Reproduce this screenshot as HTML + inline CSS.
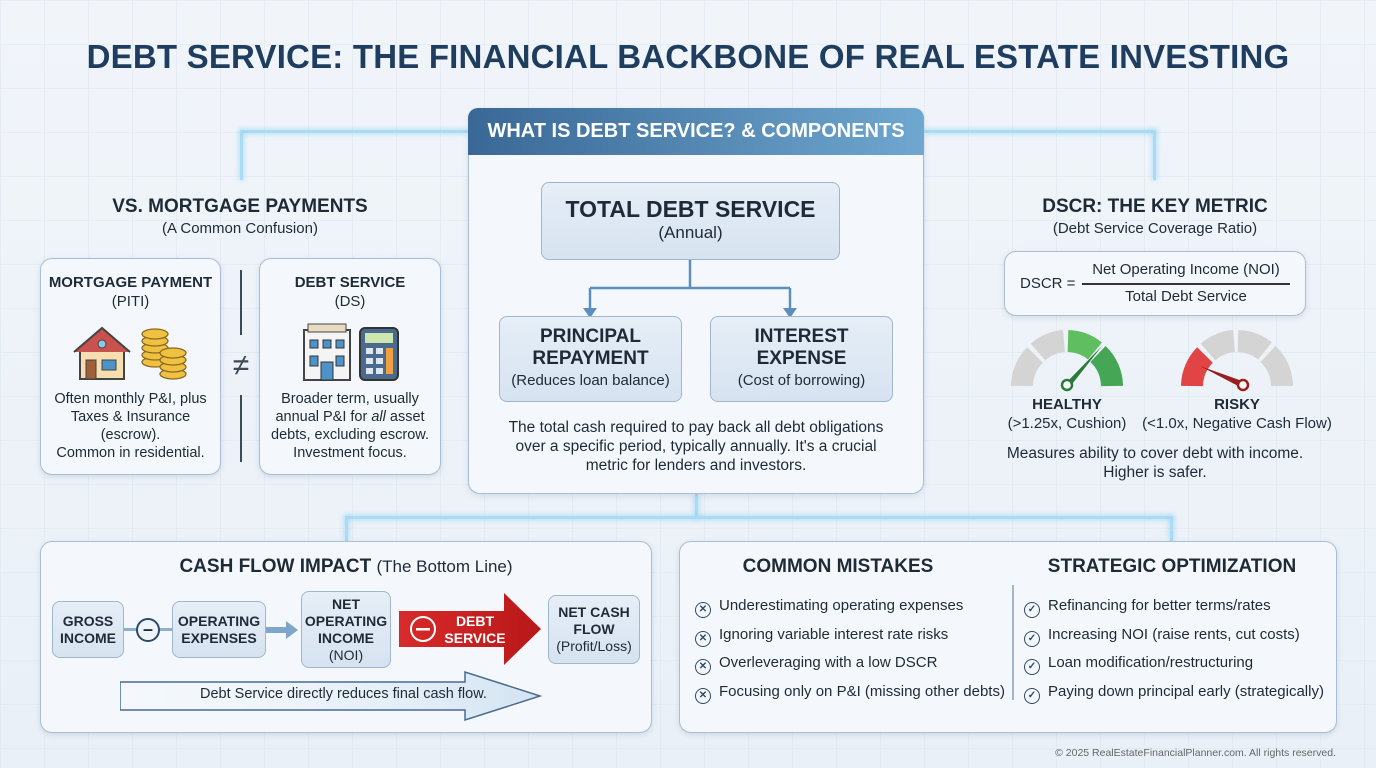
<!DOCTYPE html>
<html><head><meta charset="utf-8"><style>
*{margin:0;padding:0;box-sizing:border-box}
body{width:1376px;height:768px;overflow:hidden;font-family:"Liberation Sans",sans-serif;color:#1e2a36;
background:linear-gradient(180deg,#f1f5fa,#e9f0f7);position:relative}
.grid{position:absolute;inset:0;background-image:linear-gradient(#dde6ef 1px,transparent 1px),linear-gradient(90deg,#dde6ef 1px,transparent 1px);background-size:44px 44px;opacity:.5}
.a{position:absolute}
.box{position:absolute;border:1.5px solid #a9bed3;border-radius:12px;background:#f4f8fc;box-shadow:0 2px 6px rgba(60,90,130,.15)}
.sb{position:absolute;border:1.5px solid #9fb6cd;border-radius:8px;background:linear-gradient(#e6eef7,#d6e3f0);text-align:center;display:flex;flex-direction:column;justify-content:center;font-size:14px;line-height:17px}
.c{text-align:center}
b{font-weight:bold}
.ln{position:absolute;background:#a9dbf5;box-shadow:0 0 6px #8fd0f2}
.li{font-size:15px;line-height:28.5px;position:absolute}
.ic{display:inline-block;width:16px;height:16px;border:1.8px solid #2f4a66;border-radius:50%;vertical-align:-2px;margin-right:8px;text-align:center;font-size:10px;line-height:13px;font-weight:bold;color:#2f4a66}
</style></head><body>
<div class="grid"></div>
<div class="a c" style="left:0;width:1376px;top:38px;font-size:33px;font-weight:bold;color:#1f3d5e;letter-spacing:.2px">DEBT SERVICE: THE FINANCIAL BACKBONE OF REAL ESTATE INVESTING</div>

<div class="ln" style="left:240px;top:130px;width:228px;height:3px;border-radius:3px"></div>
<div class="ln" style="left:240px;top:130px;width:3px;height:50px"></div>
<div class="ln" style="left:924px;top:130px;width:232px;height:3px"></div>
<div class="ln" style="left:1153px;top:130px;width:3px;height:50px"></div>
<div class="ln" style="left:695px;top:494px;width:3px;height:24px"></div>
<div class="ln" style="left:345px;top:516px;width:828px;height:3px"></div>
<div class="ln" style="left:345px;top:516px;width:3px;height:25px"></div>
<div class="ln" style="left:1170px;top:516px;width:3px;height:25px"></div>

<div class="box" style="left:468px;top:108px;width:456px;height:386px"></div>
<div class="a c" style="left:468px;top:108px;width:456px;height:47px;border-radius:10px 10px 0 0;background:linear-gradient(90deg,#3a6896,#6ea7d0);color:#fff;font-size:20px;font-weight:bold;line-height:47px">WHAT IS DEBT SERVICE? &amp; COMPONENTS</div>
<div class="sb" style="left:541px;top:182px;width:299px;height:78px;font-size:17px;line-height:24px"><b style="font-size:23px">TOTAL DEBT SERVICE</b>(Annual)</div>
<svg class="a" style="left:580px;top:260px" width="230" height="60"><g stroke="#5e8fba" stroke-width="2.5" fill="none"><path d="M110 0V28M10 28H210M10 28V50M210 28V50"/></g><path d="M3 48L10 58L17 48Z M203 48L210 58L217 48Z" fill="#5e8fba"/></svg>
<div class="sb" style="left:499px;top:316px;width:183px;height:86px;font-size:15px;line-height:22px"><b style="font-size:19px">PRINCIPAL<br>REPAYMENT</b>(Reduces loan balance)</div>
<div class="sb" style="left:710px;top:316px;width:183px;height:86px;font-size:15px;line-height:22px"><b style="font-size:19px">INTEREST<br>EXPENSE</b>(Cost of borrowing)</div>
<div class="a c" style="left:500px;top:418px;width:392px;font-size:15.5px;line-height:19px">The total cash required to pay back all debt obligations over a specific period, typically annually. It's a crucial metric for lenders and investors.</div>

<div class="a c" style="left:40px;width:400px;top:196px;font-size:19px;font-weight:bold">VS. MORTGAGE PAYMENTS</div>
<div class="a c" style="left:40px;width:400px;top:220px;font-size:15px">(A Common Confusion)</div>
<div class="box" style="left:40px;top:258px;width:181px;height:217px"></div>
<div class="box" style="left:259px;top:258px;width:182px;height:217px"></div>
<div class="a c" style="left:40px;width:181px;top:273px;font-size:15px;line-height:19px"><b>MORTGAGE PAYMENT</b><br>(PITI)</div>
<div class="a c" style="left:259px;width:182px;top:273px;font-size:15px;line-height:19px"><b>DEBT SERVICE</b><br>(DS)</div>
<svg class="a" style="left:70px;top:322px" width="120" height="60">
<rect x="10" y="25" width="44" height="32" fill="#f7deb0" stroke="#444" stroke-width="2"/><path d="M4 30L32 6L60 30" fill="#c9524e" stroke="#444" stroke-width="2"/><rect x="16" y="38" width="10" height="19" fill="#a0603a" stroke="#444"/><rect x="32" y="38" width="14" height="10" fill="#4c93c9" stroke="#444"/><circle cx="32" cy="22" r="4" fill="#8fc7e8" stroke="#444"/>
<g fill="#f0c040" stroke="#8a6a20" stroke-width="1.3">
<ellipse cx="85" cy="40" rx="13" ry="5"/><ellipse cx="85" cy="33" rx="13" ry="5"/><ellipse cx="85" cy="26" rx="13" ry="5"/><ellipse cx="85" cy="19" rx="13" ry="5"/><ellipse cx="85" cy="12" rx="13" ry="5"/>
<ellipse cx="103" cy="52" rx="13" ry="5"/><ellipse cx="103" cy="45" rx="13" ry="5"/><ellipse cx="103" cy="38" rx="13" ry="5"/><ellipse cx="103" cy="31" rx="13" ry="5"/></g></svg>
<svg class="a" style="left:300px;top:322px" width="110" height="60">
<rect x="4" y="8" width="46" height="50" fill="#f4f4f4" stroke="#444" stroke-width="2"/><rect x="8" y="2" width="38" height="8" fill="#e8dcc0" stroke="#444"/><g fill="#4c93c9" stroke="#333"><rect x="10" y="18" width="8" height="8"/><rect x="23" y="18" width="8" height="8"/><rect x="36" y="18" width="8" height="8"/><rect x="10" y="34" width="8" height="10"/><rect x="36" y="34" width="8" height="10"/><rect x="21" y="40" width="12" height="18"/></g>
<rect x="60" y="6" width="38" height="52" rx="5" fill="#4a6a8e" stroke="#333" stroke-width="2"/><rect x="65" y="11" width="28" height="10" fill="#cde6b0"/><g fill="#dfe8f0"><rect x="66" y="26" width="7" height="6"/><rect x="76" y="26" width="7" height="6"/><rect x="66" y="36" width="7" height="6"/><rect x="76" y="36" width="7" height="6"/><rect x="66" y="46" width="7" height="6"/><rect x="76" y="46" width="7" height="6"/></g><rect x="86" y="26" width="7" height="26" fill="#f0a040"/></svg>
<div class="a" style="left:240px;top:270px;width:2px;height:65px;background:#3c4a58"></div>
<div class="a" style="left:240px;top:395px;width:2px;height:67px;background:#3c4a58"></div>
<div class="a c" style="left:222px;width:38px;top:349px;font-size:30px;color:#3c4a58">≠</div>
<div class="a c" style="left:40px;width:181px;top:390px;font-size:14.5px;line-height:18px">Often monthly P&amp;I, plus Taxes &amp; Insurance (escrow).<br>Common in residential.</div>
<div class="a c" style="left:259px;width:182px;top:390px;font-size:14.5px;line-height:18px">Broader term, usually annual P&amp;I for <i>all</i> asset debts, excluding escrow. Investment focus.</div>

<div class="a c" style="left:1005px;width:300px;top:196px;font-size:19px;font-weight:bold">DSCR: THE KEY METRIC</div>
<div class="a c" style="left:1005px;width:300px;top:220px;font-size:15px">(Debt Service Coverage Ratio)</div>
<div class="box" style="left:1004px;top:251px;width:302px;height:65px"></div>
<div class="a" style="left:1020px;top:275px;font-size:15px">DSCR =</div>
<div class="a c" style="left:1082px;width:208px;top:261px;font-size:15px">Net Operating Income (NOI)</div>
<div class="a" style="left:1082px;width:208px;top:283px;height:1.5px;background:#333"></div>
<div class="a c" style="left:1082px;width:208px;top:288px;font-size:15px">Total Debt Service</div>
<svg class="a" style="left:1005px;top:330px" width="310" height="62">
<g fill="none" stroke-width="22"><path d="M17 56A45 45 0 0 1 30 25" stroke="#d4d4d4"/><path d="M33 22A45 45 0 0 1 59 11" stroke="#d4d4d4"/><path d="M63 11A45 45 0 0 1 90 21" stroke="#5fbf60"/><path d="M93 24A45 45 0 0 1 107 56" stroke="#45a655"/>
<path d="M187 56A45 45 0 0 1 200 25" stroke="#e04444"/><path d="M203 22A45 45 0 0 1 229 11" stroke="#d4d4d4"/><path d="M233 11A45 45 0 0 1 260 21" stroke="#d4d4d4"/><path d="M263 24A45 45 0 0 1 277 56" stroke="#d4d4d4"/></g>
<path d="M60 54L97 16L64 58Z" fill="#2a7a3a"/><circle cx="62" cy="55" r="5" fill="#fff" stroke="#2a7a3a" stroke-width="2.5"/>
<path d="M240 52L195 36L237 58Z" fill="#9a1e1e"/><circle cx="238" cy="55" r="5" fill="#fff" stroke="#9a1e1e" stroke-width="2.5"/></svg>
<div class="a c" style="left:997px;width:140px;top:395px;font-size:15px;line-height:19px"><b>HEALTHY</b><br>(&gt;1.25x, Cushion)</div>
<div class="a c" style="left:1142px;width:190px;top:395px;font-size:15px;line-height:19px"><b>RISKY</b><br>(&lt;1.0x, Negative Cash Flow)</div>
<div class="a c" style="left:990px;width:330px;top:444px;font-size:15.5px;line-height:19px">Measures ability to cover debt with income.<br>Higher is safer.</div>

<div class="box" style="left:40px;top:541px;width:612px;height:192px"></div>
<div class="a c" style="left:40px;width:612px;top:556px;font-size:19px"><b>CASH FLOW IMPACT</b> <span style="font-size:17px">(The Bottom Line)</span></div>
<svg class="a" style="left:120px;top:670px" width="430" height="52"><defs><linearGradient id="g" x1="0" x2="1"><stop offset="0" stop-color="#eef4fa" stop-opacity="0"/><stop offset="1" stop-color="#d3e4f2"/></linearGradient></defs><path d="M0 12H345V2L420 26L345 50V40H0Z" fill="url(#g)" stroke="#4a6a8e" stroke-width="1.5"/></svg>
<div class="a" style="left:200px;top:686px;font-size:14.5px">Debt Service directly reduces final cash flow.</div>
<div class="sb" style="left:52px;top:601px;width:72px;height:57px;font-weight:bold">GROSS<br>INCOME</div>
<div class="a" style="left:124px;top:628px;width:48px;height:3px;background:#8fb0cd"></div>
<div class="a c" style="left:136px;top:618px;width:24px;height:24px;border:2px solid #2f4a66;border-radius:50%;background:#eef4fa;line-height:18px;font-size:18px;font-weight:bold">–</div>
<div class="sb" style="left:172px;top:601px;width:94px;height:57px;font-weight:bold">OPERATING<br>EXPENSES</div>
<svg class="a" style="left:266px;top:620px" width="36" height="20"><path d="M0 7H20V1L32 10L20 19V13H0Z" fill="#7fa6c8"/></svg>
<div class="sb" style="left:301px;top:591px;width:90px;height:77px"><b>NET<br>OPERATING<br>INCOME</b>(NOI)</div>
<svg class="a" style="left:399px;top:593px" width="142" height="72"><defs><linearGradient id="r" x1="0" x2="1"><stop offset="0" stop-color="#d82a2a"/><stop offset="1" stop-color="#b81818"/></linearGradient></defs><path d="M0 18H105V0L142 36L105 72V54H0Z" fill="url(#r)"/><circle cx="24" cy="36" r="12" fill="none" stroke="#fff" stroke-width="2"/><rect x="17" y="35" width="14" height="2.5" fill="#fff"/></svg>
<div class="a c" style="left:440px;width:70px;top:613px;font-size:14px;line-height:17px;color:#fff;font-weight:bold">DEBT<br>SERVICE</div>
<div class="sb" style="left:548px;top:595px;width:92px;height:69px"><b>NET CASH<br>FLOW</b>(Profit/Loss)</div>

<div class="box" style="left:679px;top:541px;width:658px;height:192px"></div>
<div class="a c" style="left:690px;width:296px;top:556px;font-size:19px;font-weight:bold">COMMON MISTAKES</div>
<div class="a c" style="left:1022px;width:300px;top:556px;font-size:19px;font-weight:bold">STRATEGIC OPTIMIZATION</div>
<div class="a" style="left:1012px;top:585px;width:1.5px;height:115px;background:#9fb6cd"></div>
<div class="li" style="left:695px;top:592px">
<div><span class="ic">✕</span>Underestimating operating expenses</div>
<div><span class="ic">✕</span>Ignoring variable interest rate risks</div>
<div><span class="ic">✕</span>Overleveraging with a low DSCR</div>
<div><span class="ic">✕</span>Focusing only on P&amp;I (missing other debts)</div></div>
<div class="li" style="left:1024px;top:592px">
<div><span class="ic">✓</span>Refinancing for better terms/rates</div>
<div><span class="ic">✓</span>Increasing NOI (raise rents, cut costs)</div>
<div><span class="ic">✓</span>Loan modification/restructuring</div>
<div><span class="ic">✓</span>Paying down principal early (strategically)</div></div>

<div class="a" style="right:40px;top:747px;font-size:10.5px;color:#666">© 2025 RealEstateFinancialPlanner.com. All rights reserved.</div>
</body></html>
